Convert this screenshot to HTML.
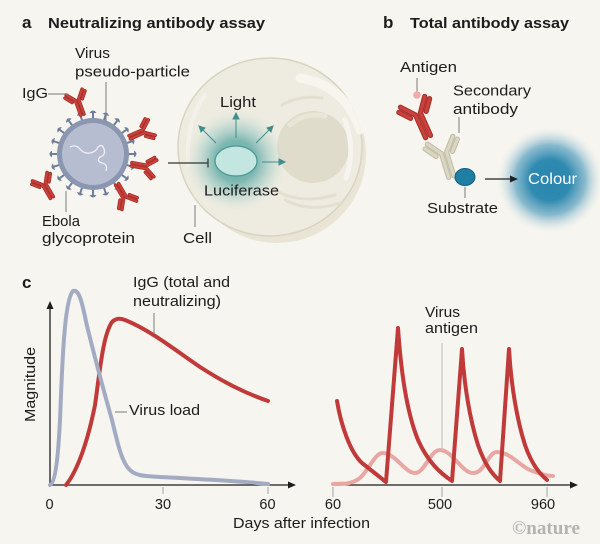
<!DOCTYPE html>
<html><head><meta charset="utf-8"><style>
html,body{margin:0;padding:0;background:#f6f5ef;}
svg{display:block;}
text{font-family:"Liberation Sans",sans-serif;fill:#1c1c1c;}
</style></head><body>
<svg width="600" height="544" viewBox="0 0 600 544" xmlns="http://www.w3.org/2000/svg">
<defs>
<radialGradient id="glowL" cx="236" cy="161" r="52" gradientUnits="userSpaceOnUse">
<stop offset="0" stop-color="#4f9f9c" stop-opacity="0.95"/>
<stop offset="0.4" stop-color="#62aaa6" stop-opacity="0.8"/>
<stop offset="0.72" stop-color="#9ccac5" stop-opacity="0.4"/>
<stop offset="1" stop-color="#e6e6dc" stop-opacity="0"/>
</radialGradient>
<radialGradient id="glowC" cx="550" cy="180" r="54" gradientUnits="userSpaceOnUse">
<stop offset="0" stop-color="#2a86ad"/>
<stop offset="0.38" stop-color="#2f8ab0"/>
<stop offset="0.65" stop-color="#5aa0bf" stop-opacity="0.7"/>
<stop offset="0.85" stop-color="#a9cbd8" stop-opacity="0.3"/>
<stop offset="1" stop-color="#f6f5ef" stop-opacity="0"/>
</radialGradient>
<g id="Y" fill="none" stroke-linecap="round" stroke-linejoin="round">
<path d="M-2.8 26 L-2.8 0 L-14 -14"/>
<path d="M2.8 26 L2.8 0 L14 -14"/>
<path d="M-9 1 L-17.7 -9.8"/>
<path d="M9 1 L17.7 -9.8"/>
</g>
<g id="spike">
<line x1="128" y1="154" x2="135" y2="154" stroke="#6f7d9a" stroke-width="2"/>
<path d="M134 150.5 Q139 154 134 157.5 Z" fill="#6f7d9a"/>
</g>
</defs>

<!-- Titles -->
<text x="22" y="28" font-size="17" font-weight="bold">a</text>
<text x="48" y="28" font-size="15" font-weight="bold" textLength="217" lengthAdjust="spacingAndGlyphs">Neutralizing antibody assay</text>
<text x="383" y="28" font-size="17" font-weight="bold">b</text>
<text x="410" y="28" font-size="15" font-weight="bold" textLength="159" lengthAdjust="spacingAndGlyphs">Total antibody assay</text>

<!-- Cell -->
<circle cx="277" cy="154" r="89" fill="#e8e5d7"/>
<ellipse cx="270" cy="147" rx="92" ry="89" fill="#eeece1" stroke="#d8d4c1" stroke-width="1.5"/>
<path d="M300 78 Q345 85 360 130" stroke="#f7f6f0" stroke-width="9" fill="none" stroke-linecap="round" opacity="0.9"/>
<path d="M188 165 Q186 120 205 95" stroke="#f5f4ec" stroke-width="4" fill="none" stroke-linecap="round" opacity="0.7"/>
<circle cx="313" cy="147" r="36" fill="#e0dccb"/>
<path d="M290 125 Q305 112 325 116" stroke="#e9e6d8" stroke-width="5" fill="none" stroke-linecap="round"/>
<path d="M282 105 Q300 95 322 98" stroke="#e3e0d0" stroke-width="3" fill="none" stroke-linecap="round"/>
<path d="M275 190 Q300 205 335 195" stroke="#e3e0d0" stroke-width="3" fill="none" stroke-linecap="round"/>
<path d="M285 200 Q310 213 340 203" stroke="#e3e0d0" stroke-width="3" fill="none" stroke-linecap="round"/>
<path d="M345 120 Q356 150 346 178" stroke="#f5f4ee" stroke-width="5" fill="none" stroke-linecap="round"/>
<!-- luciferase glow -->
<circle cx="236" cy="161" r="52" fill="url(#glowL)"/>
<ellipse cx="236" cy="161" rx="21" ry="15" fill="#c4e6e1" stroke="#4a9a96" stroke-width="1.3"/>
<g stroke="#3e8f8c" stroke-width="1" fill="#3e8f8c">
<line x1="236" y1="138" x2="236" y2="118"/><path d="M233 119 L236 113 L239 119 Z"/>
<line x1="216" y1="143" x2="203" y2="130"/><path d="M201 132 L199 126 L205 128 Z"/>
<line x1="256" y1="143" x2="269" y2="130"/><path d="M267 128 L273 126 L271 132 Z"/>
<line x1="262" y1="162" x2="280" y2="162"/><path d="M279 159 L285 162 L279 165 Z"/>
</g>
<!-- inhibition -->
<line x1="168" y1="163" x2="208" y2="163" stroke="#333" stroke-width="1.2"/>
<line x1="208" y1="158.5" x2="208" y2="167.5" stroke="#333" stroke-width="1.2"/>

<!-- Virus -->
<use href="#spike" transform="rotate(0 93 154)"/>
<use href="#spike" transform="rotate(18 93 154)"/>
<use href="#spike" transform="rotate(36 93 154)"/>
<use href="#spike" transform="rotate(54 93 154)"/>
<use href="#spike" transform="rotate(72 93 154)"/>
<use href="#spike" transform="rotate(90 93 154)"/>
<use href="#spike" transform="rotate(108 93 154)"/>
<use href="#spike" transform="rotate(126 93 154)"/>
<use href="#spike" transform="rotate(144 93 154)"/>
<use href="#spike" transform="rotate(162 93 154)"/>
<use href="#spike" transform="rotate(180 93 154)"/>
<use href="#spike" transform="rotate(198 93 154)"/>
<use href="#spike" transform="rotate(216 93 154)"/>
<use href="#spike" transform="rotate(234 93 154)"/>
<use href="#spike" transform="rotate(252 93 154)"/>
<use href="#spike" transform="rotate(270 93 154)"/>
<use href="#spike" transform="rotate(288 93 154)"/>
<use href="#spike" transform="rotate(306 93 154)"/>
<use href="#spike" transform="rotate(324 93 154)"/>
<use href="#spike" transform="rotate(342 93 154)"/>
<circle cx="93" cy="154" r="36" fill="#8b97b1"/>
<circle cx="93" cy="154" r="31" fill="#b6bdd0"/>
<path d="M70 147 q6 -3 10 2 t10 4 t8 -6 q4 -4 6 2 q2 6 -4 8 q-4 4 2 6 q6 1 4 8" stroke="#eef0f6" stroke-width="1.3" fill="none"/>
<!-- IgGs on virus -->
<g stroke="#a92e2a" stroke-width="6">
<use href="#Y" transform="translate(77 100) rotate(-20) scale(0.6)"/>
<use href="#Y" transform="translate(144 131) rotate(66) scale(0.6)"/>
<use href="#Y" transform="translate(147 167) rotate(100) scale(0.6)"/>
<use href="#Y" transform="translate(44 184) rotate(-30) scale(0.6)"/>
<use href="#Y" transform="translate(125 198) rotate(150) scale(0.6)"/>
</g>
<g stroke="#c9423b" stroke-width="3.2">
<use href="#Y" transform="translate(77 100) rotate(-20) scale(0.6)"/>
<use href="#Y" transform="translate(144 131) rotate(66) scale(0.6)"/>
<use href="#Y" transform="translate(147 167) rotate(100) scale(0.6)"/>
<use href="#Y" transform="translate(44 184) rotate(-30) scale(0.6)"/>
<use href="#Y" transform="translate(125 198) rotate(150) scale(0.6)"/>
</g>

<!-- leader lines a -->
<g stroke="#7a7a7a" stroke-width="1">
<line x1="48" y1="94" x2="68" y2="94"/>
<line x1="106" y1="82" x2="106" y2="122"/>
<line x1="66" y1="191" x2="66" y2="212"/>
<line x1="195" y1="205" x2="195" y2="227"/>
<line x1="417" y1="78" x2="417" y2="92"/>
<line x1="459" y1="117" x2="459" y2="133"/>
<line x1="465" y1="187" x2="465" y2="198"/>
</g>

<text x="75" y="58" font-size="14.5" textLength="35" lengthAdjust="spacingAndGlyphs">Virus</text>
<text x="75" y="76.5" font-size="14.5" textLength="115" lengthAdjust="spacingAndGlyphs">pseudo-particle</text>
<text x="22" y="98" font-size="14.5" textLength="26" lengthAdjust="spacingAndGlyphs">IgG</text>
<text x="42" y="226" font-size="14.5" textLength="38" lengthAdjust="spacingAndGlyphs">Ebola</text>
<text x="42" y="243" font-size="14.5" textLength="93" lengthAdjust="spacingAndGlyphs">glycoprotein</text>
<text x="220" y="107" font-size="14.5" textLength="36" lengthAdjust="spacingAndGlyphs">Light</text>
<text x="204" y="195.5" font-size="14.5" textLength="75" lengthAdjust="spacingAndGlyphs">Luciferase</text>
<text x="183" y="243" font-size="14.5" textLength="29" lengthAdjust="spacingAndGlyphs">Cell</text>

<!-- Panel b -->
<g stroke="#c2bea6" stroke-width="5.5">
<use href="#Y" transform="translate(444 153) rotate(-17) scale(0.95)"/>
</g>
<g stroke="#dad7c4" stroke-width="3.2">
<use href="#Y" transform="translate(444 153) rotate(-17) scale(0.95)"/>
</g>
<g stroke="#a92e2a" stroke-width="5.5">
<use href="#Y" transform="translate(418 114) rotate(-24) scale(0.95)"/>
</g>
<g stroke="#c9423b" stroke-width="3.2">
<use href="#Y" transform="translate(418 114) rotate(-24) scale(0.95)"/>
</g>
<circle cx="417" cy="95" r="3.8" fill="#f2aaa9"/>
<ellipse cx="465" cy="177" rx="10" ry="8.5" fill="#1f7ea3" stroke="#17607e" stroke-width="1"/>
<circle cx="550" cy="180" r="54" fill="url(#glowC)"/>
<line x1="485" y1="179" x2="512" y2="179" stroke="#222" stroke-width="1.2"/>
<path d="M510 175.5 L518 179 L510 182.5 Z" fill="#222"/>
<text x="400" y="72" font-size="14.5" textLength="57" lengthAdjust="spacingAndGlyphs">Antigen</text>
<text x="453" y="95.5" font-size="14.5" textLength="78" lengthAdjust="spacingAndGlyphs">Secondary</text>
<text x="453" y="114" font-size="14.5" textLength="65" lengthAdjust="spacingAndGlyphs">antibody</text>
<text x="427" y="213" font-size="14.5" textLength="71" lengthAdjust="spacingAndGlyphs">Substrate</text>
<text x="528" y="184" font-size="15.5" textLength="49" lengthAdjust="spacingAndGlyphs" style="fill:#ffffff">Colour</text>

<!-- Panel c -->
<text x="22" y="288" font-size="17" font-weight="bold">c</text>
<!-- left axes -->
<line x1="50" y1="486" x2="50" y2="308" stroke="#1c1c1c" stroke-width="1.3"/>
<path d="M46.5 309 L50 301 L53.5 309 Z" fill="#1c1c1c"/>
<line x1="50" y1="485" x2="290" y2="485" stroke="#1c1c1c" stroke-width="1.3"/>
<path d="M288 481.5 L296 485 L288 488.5 Z" fill="#1c1c1c"/>
<g stroke="#b5b5b5" stroke-width="1.3">
<line x1="163" y1="487" x2="163" y2="494"/>
<line x1="268" y1="487" x2="268" y2="494"/>
<line x1="333" y1="487" x2="333" y2="497"/>
<line x1="442" y1="487" x2="442" y2="497"/>
<line x1="547" y1="487" x2="547" y2="497"/>
</g>
<!-- right axis -->
<line x1="345" y1="485" x2="572" y2="485" stroke="#1c1c1c" stroke-width="1.3"/>
<path d="M570 481.5 L578 485 L570 488.5 Z" fill="#1c1c1c"/>

<!-- curves left -->
<path d="M66 485 C78 470 88 440 95 405 C100 370 103 335 112 322 C116 318 120 318 125 320 C150 330 175 350 200 367 C225 383 245 393 268 401" stroke="#c13a3a" stroke-width="4" fill="none" stroke-linecap="round"/>
<path d="M50 485 C55 483 58 460 60 420 C62 370 64 300 73 291 C81 288 84 315 88 330 C93 350 104 392 112 420 C118 445 122 463 130 470 C136 476 145 476 160 477 C200 479 240 481 268 484" stroke="#a2abc2" stroke-width="4" fill="none" stroke-linecap="round"/>

<!-- curves right -->
<path d="M333 484 C345 484 352 484 360 478 C370 468 375 453 383 453 C395 453 405 473 415 473 C425 473 430 450 440 450 C452 450 462 473 473 473 C485 473 488 452 497 452 C510 452 520 466 530 470 C540 474 548 476 553 476" stroke="#e9a7a4" stroke-width="4" fill="none" stroke-linecap="round"/>
<line x1="442" y1="343" x2="442" y2="450" stroke="#c4c4c4" stroke-width="1.2"/>
<path d="M337 401 C341 425 350 452 362 463 L386 482 L398 328 C401 370 406 410 418 440 C428 462 440 473 452 481 L462 349 C464 385 470 420 478 445 C485 465 492 474 500 481 L509 349 C511 385 517 420 525 445 C532 465 540 474 547 480" stroke="#c13a3a" stroke-width="4" fill="none" stroke-linecap="round" stroke-linejoin="round"/>

<!-- chart leader lines -->
<line x1="154" y1="313" x2="154" y2="334" stroke="#7a7a7a" stroke-width="1"/>
<line x1="115" y1="412" x2="127" y2="412" stroke="#7a7a7a" stroke-width="1"/>

<text x="133" y="287" font-size="14.5" textLength="97" lengthAdjust="spacingAndGlyphs">IgG (total and</text>
<text x="133" y="306" font-size="14.5" textLength="88" lengthAdjust="spacingAndGlyphs">neutralizing)</text>
<text x="129" y="415" font-size="14.5" textLength="71" lengthAdjust="spacingAndGlyphs">Virus load</text>
<text x="425" y="317" font-size="14.5" textLength="35" lengthAdjust="spacingAndGlyphs">Virus</text>
<text x="425" y="333" font-size="14.5" textLength="53" lengthAdjust="spacingAndGlyphs">antigen</text>
<text transform="translate(35 422) rotate(-90)" font-size="14.5" textLength="75" lengthAdjust="spacingAndGlyphs">Magnitude</text>

<g font-size="14.5" text-anchor="middle">
<text x="49.5" y="509">0</text>
<text x="163" y="509">30</text>
<text x="267.5" y="509">60</text>
<text x="333" y="509">60</text>
<text x="440" y="509">500</text>
<text x="543" y="509">960</text>
</g>
<text x="233" y="528" font-size="14.5" textLength="137" lengthAdjust="spacingAndGlyphs">Days after infection</text>
<text x="512" y="534" font-size="19" font-weight="bold" textLength="68" lengthAdjust="spacingAndGlyphs" style="font-family:'Liberation Serif',serif;fill:#b3b3b3">©nature</text>
</svg>
</body></html>
